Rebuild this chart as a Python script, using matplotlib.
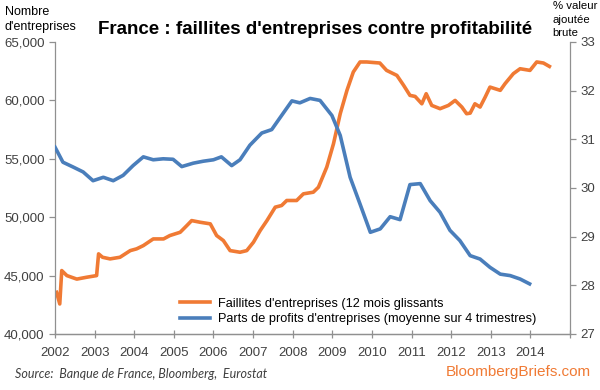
import numpy as np
import matplotlib.pyplot as plt
from matplotlib.ticker import FuncFormatter

# ===== data =====
fail_t = [2002.04, 2002.12, 2002.17, 2002.30, 2002.55, 2002.80, 2003.05, 2003.10, 2003.20,
          2003.39, 2003.64, 2003.90, 2004.06, 2004.23, 2004.48, 2004.74, 2004.90, 2005.16,
          2005.33, 2005.45, 2005.66, 2005.92, 2006.08, 2006.25, 2006.42, 2006.67, 2006.84,
          2007.01, 2007.18, 2007.35, 2007.56, 2007.72, 2007.85, 2008.10, 2008.27, 2008.52,
          2008.65, 2008.86, 2009.03, 2009.20, 2009.37, 2009.53, 2009.70, 2009.87, 2010.20,
          2010.37, 2010.63, 2010.80, 2010.96, 2011.09, 2011.26, 2011.37, 2011.51, 2011.72,
          2011.93, 2012.10, 2012.27, 2012.39, 2012.48, 2012.60, 2012.73, 2012.86, 2012.98,
          2013.24, 2013.36, 2013.57, 2013.74, 2013.99, 2014.16, 2014.33, 2014.48]
fail_v = [43570, 42570, 45430, 45000, 44700, 44860, 45000, 46860, 46570,
          46430, 46570, 47140, 47290, 47570, 48140, 48140, 48430, 48710,
          49290, 49710, 49570, 49430, 48430, 48000, 47140, 47000, 47140,
          47860, 48860, 49710, 50860, 51000, 51430, 51430, 52000, 52140,
          52570, 54290, 56290, 58860, 60860, 62430, 63290, 63290, 63200,
          62570, 62140, 61290, 60430, 60340, 59710, 60570, 59570, 59290,
          59570, 60000, 59430, 58860, 58910, 59710, 59430, 60290, 61140,
          60860, 61430, 62290, 62710, 62570, 63290, 63200, 62910]

prof_t = [2002.00, 2002.20, 2002.46, 2002.71, 2002.96, 2003.22, 2003.47, 2003.72, 2003.97,
          2004.23, 2004.48, 2004.73, 2004.98, 2005.20, 2005.49, 2005.74, 2006.00, 2006.20,
          2006.46, 2006.67, 2006.92, 2007.22, 2007.47, 2007.72, 2007.98, 2008.18, 2008.44,
          2008.69, 2008.99, 2009.20, 2009.45, 2009.70, 2009.96, 2010.21, 2010.46, 2010.71,
          2010.96, 2011.22, 2011.47, 2011.72, 2011.97, 2012.22, 2012.48, 2012.73, 2012.98,
          2013.24, 2013.49, 2013.74, 2013.98]
prof_v = [30.84, 30.53, 30.43, 30.33, 30.15, 30.22, 30.15, 30.26, 30.46,
          30.64, 30.58, 30.60, 30.59, 30.44, 30.51, 30.55, 30.58, 30.64,
          30.46, 30.58, 30.88, 31.13, 31.20, 31.49, 31.79, 31.75, 31.84,
          31.80, 31.49, 31.08, 30.22, 29.67, 29.09, 29.16, 29.41, 29.35,
          30.07, 30.09, 29.74, 29.50, 29.13, 28.92, 28.61, 28.54, 28.37,
          28.23, 28.20, 28.13, 28.03]

years = list(range(2002, 2015))

orange = '#F07A34'
blue = '#4A7EBB'
grey = '#404040'

plt.rcParams['font.family'] = ['Liberation Sans', 'DejaVu Sans']

fig = plt.figure(figsize=(6, 3.9), dpi=100)
ax = fig.add_axes([55/600, 1-334/390, (570-55)/600, (334-42)/390])
ax2 = ax.twinx()

l1, = ax.plot(fail_t, fail_v, color=orange, lw=2.6, solid_joinstyle='round')
l2, = ax2.plot(prof_t, prof_v, color=blue, lw=2.6, solid_joinstyle='round')

ax.set_xlim(2002, 2015)
ax.set_ylim(40000, 65000)
ax2.set_ylim(27, 33)
ax.set_xticks(years + [2015])
ax.set_xticklabels([str(y) for y in years] + [''])
ax.set_yticks(np.arange(40000, 65001, 5000))
ax.yaxis.set_major_formatter(FuncFormatter(lambda v, p: f'{int(v):,}'))
ax2.set_yticks(range(27, 34))

for a in (ax, ax2):
    a.spines['top'].set_visible(False)
    for s in a.spines.values():
        s.set_color('#909090')
        s.set_linewidth(0.9)
    a.tick_params(colors='#909090', labelcolor=grey, labelsize=9.5, length=4, width=0.9)
ax.tick_params(axis='x', direction='inout', length=6, pad=6)
ax2.spines['left'].set_visible(False)
ax.spines['right'].set_visible(False)

ax.legend([l1, l2], ["Faillites d'entreprises (12 mois glissants",
                     "Parts de profits d'entreprises (moyenne sur 4 trimestres)"],
          loc='lower left', bbox_to_anchor=(0.225, 0.0), frameon=False,
          fontsize=9.2, handlelength=2.4, handletextpad=0.6, labelspacing=0.25,
          borderaxespad=0.3)

fig.text(0.525, 0.925, "France : faillites d'entreprises contre profitabilité",
         ha='center', va='center', fontsize=13.5, fontweight='bold')
fig.text(0.008, 0.985, "Nombre\nd'entreprises", ha='left', va='top', fontsize=9,
         linespacing=1.3)
fig.text(0.921, 0.997, "% valeur\najoutée\nbrute", ha='left', va='top', fontsize=8.2,
         linespacing=1.45)
fig.text(0.025, 0.025, "Source:  Banque de France, Bloomberg,  Eurostat", ha='left',
         va='bottom', fontsize=9, style='italic', color=grey, family='Lato')
fig.text(0.985, 0.028, "BloombergBriefs.com", ha='right', va='bottom', fontsize=11,
         color=orange)

fig.savefig('out.png', dpi=100)
